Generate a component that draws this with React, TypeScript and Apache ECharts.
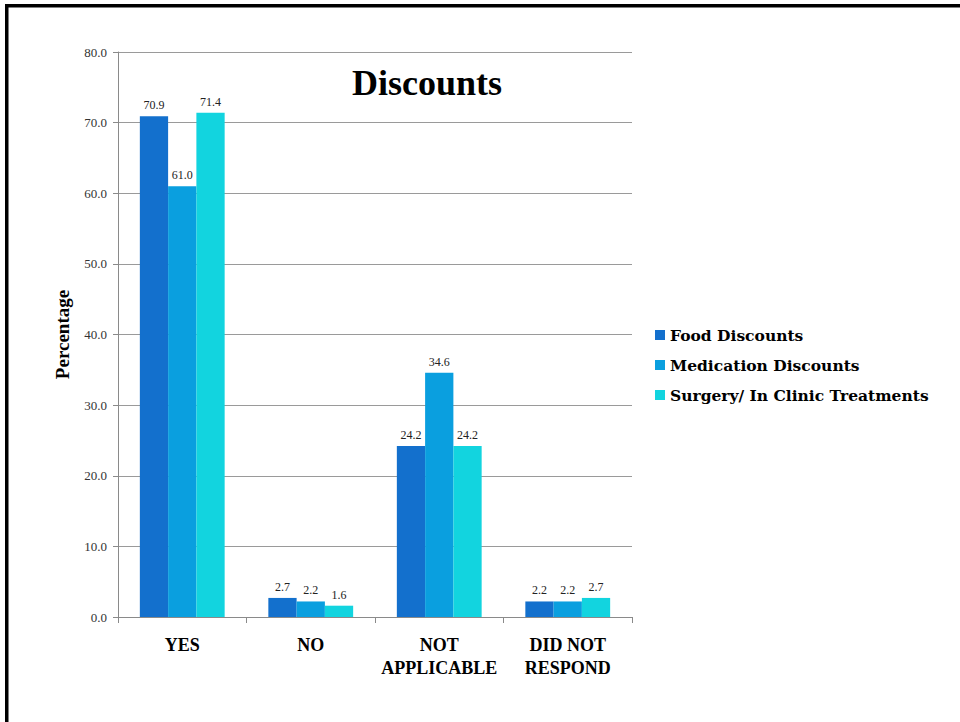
import React, { useEffect, useRef } from "react";
import * as echarts from "echarts";

const categories = ["YES", "NO", "NOT\nAPPLICABLE", "DID NOT\nRESPOND"];
const foodDiscounts = [70.9, 2.7, 24.2, 2.2];
const medicationDiscounts = [61.0, 2.2, 34.6, 2.2];
const surgeryTreatments = [71.4, 1.6, 24.2, 2.7];
const seriesNames = ["Food Discounts", "Medication Discounts", "Surgery/ In Clinic Treatments"];
const seriesColors = ["#1370cd", "#0a9fdf", "#12d4df"];

const SERIF = "'Liberation Serif', 'DejaVu Serif', serif";
const WIDE_SERIF = "'DejaVu Serif', 'Liberation Serif', serif";

export default function App() {
  const ref = useRef<HTMLDivElement>(null);

  useEffect(() => {
    if (!ref.current) return;
    const chart = echarts.init(ref.current, null, { renderer: "svg" });
    const values = [foodDiscounts, medicationDiscounts, surgeryTreatments];

    chart.setOption({
      animation: false,
      backgroundColor: "#ffffff",
      title: {
        text: "Discounts",
        left: 422,
        top: 78,
        textAlign: "center",
        textVerticalAlign: "middle",
        textStyle: { fontFamily: SERIF, fontWeight: "bold", fontSize: 36, color: "#000" },
      },
      legend: {
        orient: "vertical",
        left: 655,
        top: 326,
        padding: 0,
        icon: "rect",
        itemWidth: 10,
        itemHeight: 10,
        itemGap: 12,
        textStyle: { fontFamily: WIDE_SERIF, fontWeight: "bold", fontSize: 15.5, color: "#000", lineHeight: 18 },
        data: seriesNames,
      },
      grid: { left: 118, right: 328, top: 52, bottom: 105, containLabel: false },
      xAxis: {
        type: "category",
        data: categories,
        axisLine: { lineStyle: { color: "#8a8a8a", width: 1 } },
        axisTick: { show: true, length: 6, lineStyle: { color: "#8a8a8a" } },
        axisLabel: {
          interval: 0,
          fontFamily: SERIF,
          fontWeight: "bold",
          fontSize: 18,
          color: "#000",
          margin: 16,
          lineHeight: 23,
        },
      },
      yAxis: {
        type: "value",
        min: 0,
        max: 80,
        interval: 10,
        name: "Percentage",
        nameLocation: "middle",
        nameGap: 46,
        nameRotate: 90,
        nameTextStyle: { fontFamily: SERIF, fontWeight: "bold", fontSize: 19, color: "#000" },
        axisLine: { show: true, lineStyle: { color: "#8a8a8a", width: 1 } },
        axisTick: { show: true, length: 5, lineStyle: { color: "#8a8a8a" } },
        axisLabel: {
          fontFamily: SERIF,
          fontSize: 13,
          color: "#333",
          margin: 11,
          formatter: (v: number) => v.toFixed(1),
        },
        splitLine: { lineStyle: { color: "#9a9a9a", width: 1 } },
      },
      series: seriesNames.map((name, i) => ({
        name,
        type: "bar",
        data: values[i],
        barGap: "0%",
        barCategoryGap: "34%",
        itemStyle: { color: seriesColors[i] },
        label: {
          show: true,
          position: "top",
          distance: 5,
          fontFamily: SERIF,
          fontSize: 12,
          color: "#222",
          formatter: (p: any) => Number(p.value).toFixed(1),
        },
      })),
      graphic: [
        { type: "rect", shape: { x: 5, y: 4, width: 955, height: 3.5 }, style: { fill: "#000" } },
        { type: "rect", shape: { x: 5, y: 4, width: 3.5, height: 718 }, style: { fill: "#000" } },
      ],
    });

    return () => chart.dispose();
  }, []);

  return (
    <div
      ref={ref}
      style={{ position: "fixed", left: 0, top: 0, width: 960, height: 722 }}
    />
  );
}
